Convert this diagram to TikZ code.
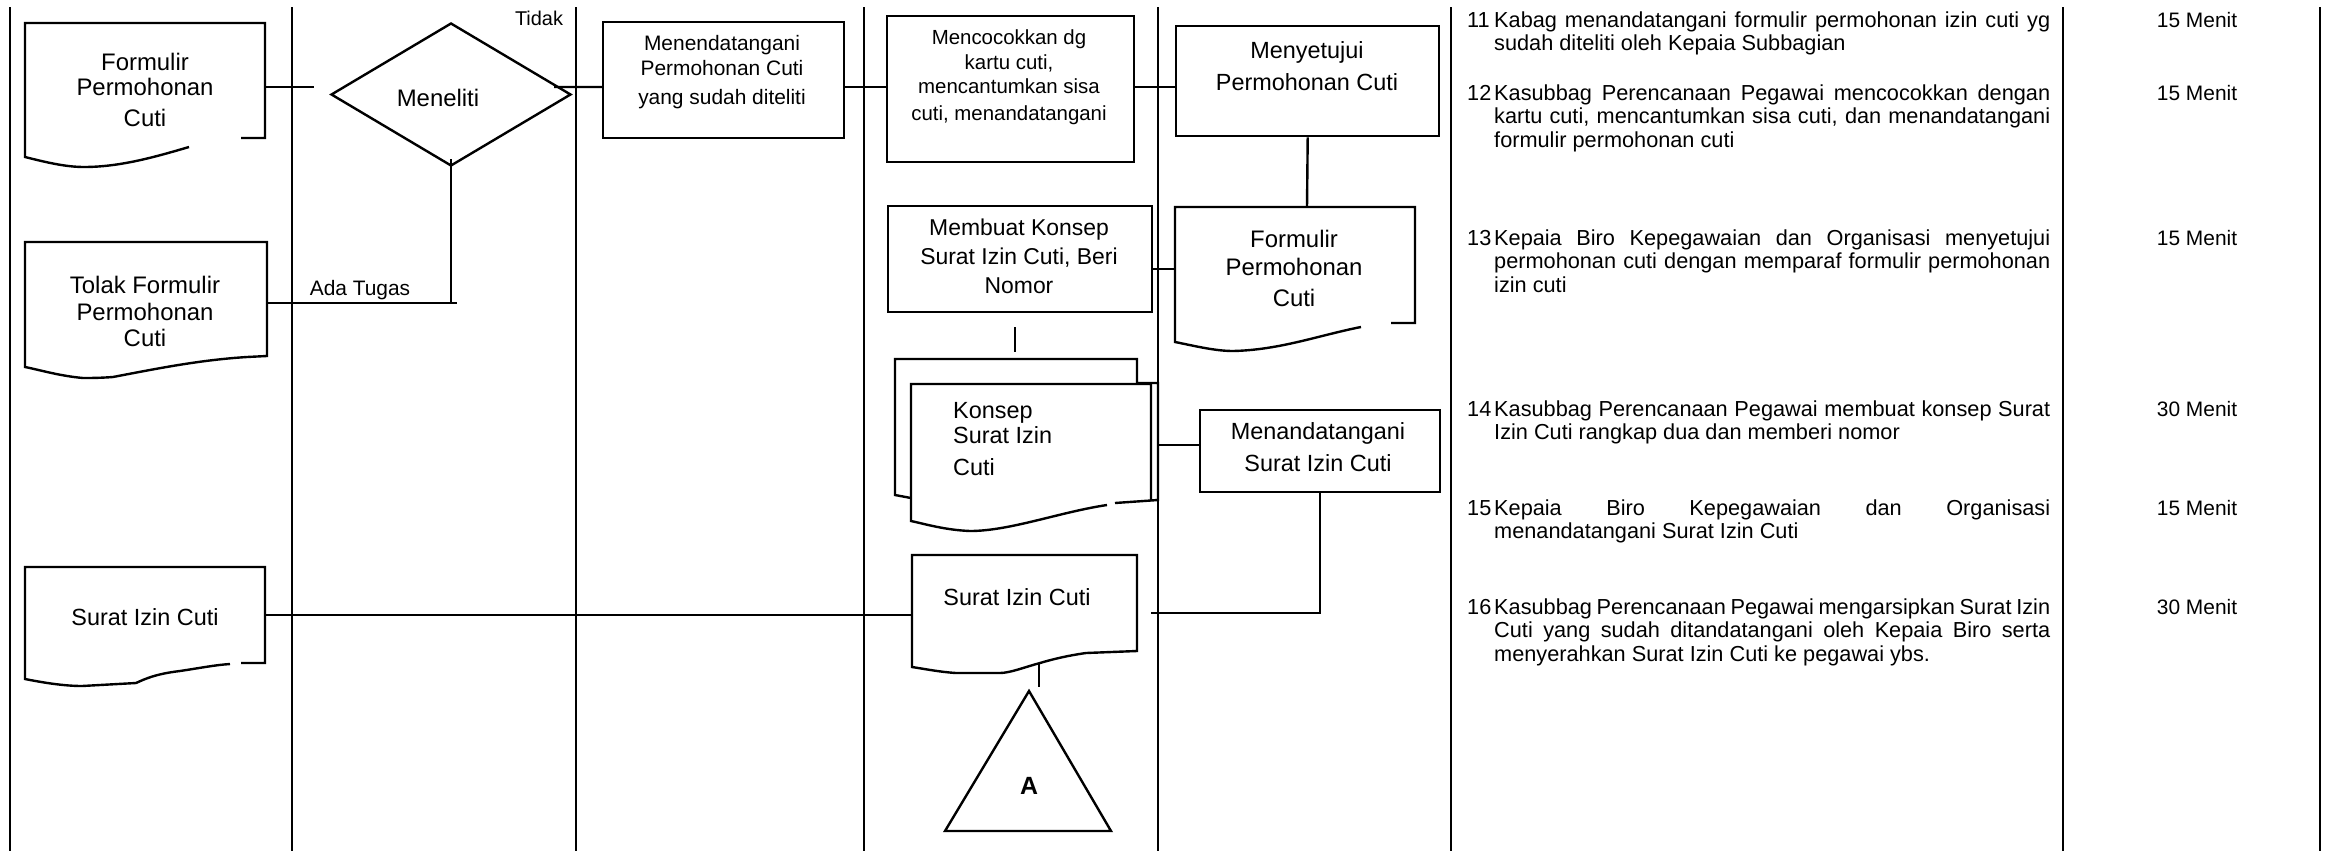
\documentclass[tikz,border=0pt]{standalone}
\usepackage{fontspec}
\setmainfont{Liberation Sans}
\usetikzlibrary{shapes.geometric}
\newcommand\jl[1]{\makebox[556bp][s]{#1}}
\newcommand\itemno[1]{\makebox[27bp][l]{#1}}
\newcommand\hangin{\hspace*{27bp}}
\begin{document}
\begin{tikzpicture}[x=1bp,y=-1bp,
  ln/.style={line width=2.4bp},
  box/.style={draw, rectangle, line width=2.4bp, inner sep=0pt, anchor=north west},
  txt/.style={inner sep=0pt, anchor=base, align=center},
  fs/.style 2 args={font=\fontsize{#1}{#2}\selectfont},
  desc/.style={inner sep=0pt, anchor=base west, align=left, font=\fontsize{21.8}{23.5}\selectfont},
  menit/.style={inner sep=0pt, anchor=base, font=\fontsize{21}{24}\selectfont}]
\useasboundingbox (0,0) rectangle (2336,851);

% swimlane and column lines
\foreach \x [count=\i] in {10,292,576,864,1158,1451,2063,2320} {
  \coordinate (lt\i) at (\x,7);
  \coordinate (lb\i) at (\x,851);
  \draw[ln] (lt\i) -- (lb\i);
}

% documents (outlines)
\draw[ln] (241,138) -- (265,138) -- (265,23) -- (25,23) -- (25,157)
  .. controls (45,162) and (65,167) .. (84,167)
  .. controls (120,167) and (155,157) .. (189,147);
\draw[ln] (25,242) -- (267,242) -- (267,356) -- (247,357)
  .. controls (200,360) and (160,368) .. (113,377)
  .. controls (100,378) and (90,378) .. (83,378)
  .. controls (60,376) and (40,370) .. (25,367) -- cycle;
\draw[ln] (241,663) -- (265,663) -- (265,567) -- (25,567) -- (25,679)
  .. controls (45,683) and (65,686) .. (82,686) -- (136,683)
  .. controls (145,679) and (155,674) .. (180,671)
  .. controls (200,668) and (215,665) .. (230,664);
\draw[ln] (912,555) -- (1137,555) -- (1137,651) -- (1086,653)
  .. controls (1065,656) and (1050,660) .. (1040,663)
  .. controls (1025,667) and (1010,673) .. (1000,673) -- (956,673)
  .. controls (940,672) and (925,669) .. (912,667) -- cycle;
\draw[ln] (1391,323) -- (1415,323) -- (1415,207) -- (1175,207) -- (1175,342)
  .. controls (1195,346) and (1215,351) .. (1233,351)
  .. controls (1280,350) and (1320,335) .. (1361,327);
\draw[ln] (911,498) -- (895,495) -- (895,359) -- (1137,359) -- (1137,383)
  -- (1158,383) -- (1158,500) -- (1115,503);
\draw[ln] (1107,505) .. controls (1060,512) and (1010,531) .. (970,531)
  .. controls (945,530) and (925,524) .. (911,521) -- (911,384) -- (1151,384) -- (1151,500);
% off-page connector triangle
\draw[ln] (1029,691) -- (1111,831) -- (945,831) -- cycle;

% process boxes and decision
\node[box, minimum width=241bp, minimum height=116bp] (menend) at (602,21) {};
\node[box, minimum width=247bp, minimum height=146bp] (mencoc) at (886,15) {};
\node[box, minimum width=263bp, minimum height=110bp] (menyet) at (1175,25) {};
\node[box, minimum width=264bp, minimum height=106bp] (membuat) at (887,205) {};
\node[box, minimum width=240bp, minimum height=82bp] (menands) at (1199,409) {};
\node[draw, diamond, line width=2.4bp, minimum width=240bp, minimum height=143bp, inner sep=0pt] (dia) at (451,94.5) {};

% named connection points on the documents
\coordinate (fpc1E) at (265,87);
\coordinate (tolakE) at (267,303);
\coordinate (sic1E) at (265,615);
\coordinate (sic2W) at (912,615);
\coordinate (sic2S) at (1039,663);
\coordinate (fpc2N) at (1307,207);
\coordinate (fpc2W) at (1175,269);
\coordinate (konsepN) at (1015,359);
\coordinate (konsepE) at (1158,445);
\coordinate (sic2E) at (1151,613);

% connectors
\draw[ln] (fpc1E) -- ++(49,0);
\draw[ln] ([xshift=-18bp,yshift=7.5bp]dia.east) -- (menend.west |- fpc1E);
\draw[ln] (menend.east |- fpc1E) -- (mencoc.west |- fpc1E);
\draw[ln] (mencoc.east |- fpc1E) -- (menyet.west |- fpc1E);
\draw[ln] (menyet.south) -- (fpc2N);
\draw[ln] (membuat.east |- fpc2W) -- (fpc2W);
\draw[ln] ([yshift=32bp]konsepN) -- ([yshift=7bp]konsepN);
\draw[ln] (konsepE) -- (menands.west |- konsepE);
\draw[ln] (menands.south) -- (menands.south |- sic2E) -- (sic2E);
\draw[ln] (sic1E) -- (sic2W);
\draw[ln] (sic2S) -- ([yshift=-24bp]sic2S);
\draw[ln] ([yshift=8bp]dia.south) -- (dia.south |- tolakE);
\draw[ln] (tolakE) -- (dia.south |- tolakE) -- ++(6,0);

% texts in the shapes (base anchor = baseline of the last line)
\node[txt, fs={24}{25}] (t_fpc1) at (145,126.5) {Formulir\\Permohonan\\[6bp]Cuti};
\node[txt, fs={24}{26.5}] (t_tolak) at (145,346.5) {Tolak Formulir\\Permohonan\\Cuti};
\node[txt, fs={23.5}{28}] (t_sic1) at (145,625.5) {Surat Izin Cuti};
\node[txt, fs={24}{28}] (t_dia) at (438,106.5) {Meneliti};
\node[txt, fs={21}{25}] (t_menend) at (722,104.5) {Menendatangani\\Permohonan Cuti\\[4bp]yang sudah diteliti};
\node[txt, fs={20.5}{24.5}] (t_mencoc) at (1009,120) {Mencocokkan dg\\kartu cuti,\\mencantumkan sisa\\[2bp]cuti, menandatangani};
\node[txt, fs={23.5}{32}] (t_menyet) at (1307,90.5) {Menyetujui\\Permohonan Cuti};
\node[txt, fs={23}{29}] (t_membuat) at (1019,293.5) {Membuat Konsep\\Surat Izin Cuti, Beri\\Nomor};
\node[txt, fs={24}{28}] (t_fpc2) at (1294,306.5) {Formulir\\Permohonan\\[3bp]Cuti};
\node[txt, fs={23.5}{25}, anchor=base west, align=left] (t_konsep) at (953,475.5) {Konsep\\Surat Izin\\[7bp]Cuti};
\node[txt, fs={23.5}{32}] (t_menands) at (1318,471.5) {Menandatangani\\Surat Izin Cuti};
\node[txt, fs={23.5}{28}] (t_sic2) at (1017,605.5) {Surat Izin Cuti};
\node[txt, font={\fontsize{25}{28}\selectfont\bfseries}] (t_A) at (1029,794) {A};
\node[txt, fs={20}{24}] (t_tidak) at (539,25) {Tidak};
\node[txt, fs={21}{24}] (t_ada) at (360,295.5) {Ada Tugas};

% description column
\node[desc] (d11) at (1467,50.5) {\itemno{11}\jl{Kabag menandatangani formulir permohonan izin cuti yg}\\\hangin sudah diteliti oleh Kepaia Subbagian};
\node[desc] (d12) at (1467,147) {\itemno{12}\jl{Kasubbag Perencanaan Pegawai mencocokkan dengan}\\\hangin\jl{kartu cuti, mencantumkan sisa cuti, dan menandatangani}\\\hangin formulir permohonan cuti};
\node[desc] (d13) at (1467,292) {\itemno{13}\jl{Kepaia Biro Kepegawaian dan Organisasi menyetujui}\\\hangin\jl{permohonan cuti dengan memparaf formulir permohonan}\\\hangin izin cuti};
\node[desc] (d14) at (1467,439.5) {\itemno{14}\jl{Kasubbag Perencanaan Pegawai membuat konsep Surat}\\\hangin Izin Cuti rangkap dua dan memberi nomor};
\node[desc] (d15) at (1467,538.5) {\itemno{15}\jl{Kepaia Biro Kepegawaian dan Organisasi}\\\hangin menandatangani Surat Izin Cuti};
\node[desc] (d16) at (1467,661) {\itemno{16}\jl{Kasubbag Perencanaan Pegawai mengarsipkan Surat Izin}\\\hangin\jl{Cuti yang sudah ditandatangani oleh Kepaia Biro serta}\\\hangin menyerahkan Surat Izin Cuti ke pegawai ybs.};

% time column
\node[menit] (m11) at (2197,27) {15 Menit};
\node[menit] (m12) at (2197,100) {15 Menit};
\node[menit] (m13) at (2197,245) {15 Menit};
\node[menit] (m14) at (2197,416) {30 Menit};
\node[menit] (m15) at (2197,515) {15 Menit};
\node[menit] (m16) at (2197,614) {30 Menit};
\end{tikzpicture}
\end{document}
